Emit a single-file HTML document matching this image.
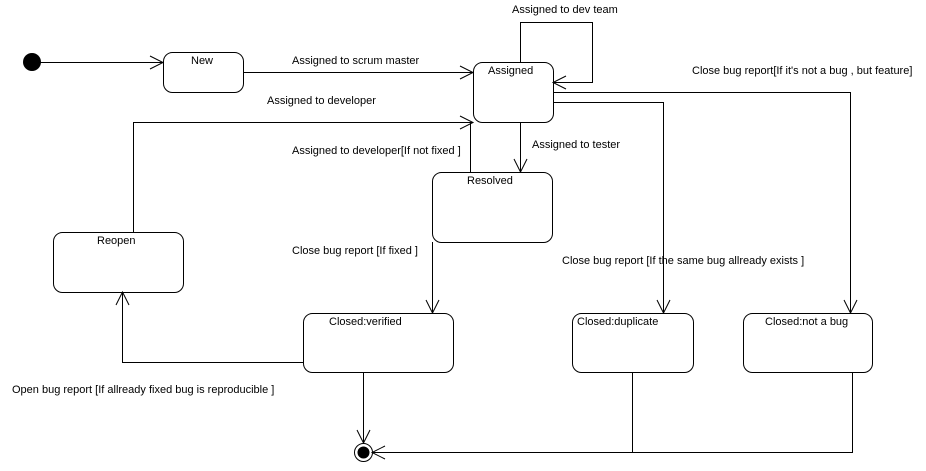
<!DOCTYPE html>
<html><head><style>body{margin:0;background:#fff}svg text{font-family:"Liberation Sans",Arial,sans-serif;font-size:11px;fill:#000}</style></head><body>
<svg width="926" height="466" viewBox="0 0 926 466" xmlns="http://www.w3.org/2000/svg">
<g fill="none" stroke="#000" stroke-width="1">
<rect x="163.5" y="52.5" width="80" height="40" rx="9"/>
<rect x="473.5" y="62.5" width="80" height="60" rx="9"/>
<rect x="432.5" y="172.5" width="120" height="70" rx="9"/>
<rect x="53.5" y="232.5" width="130" height="60" rx="9"/>
<rect x="303.5" y="313.5" width="150" height="59" rx="9"/>
<rect x="572.5" y="313.5" width="121" height="59" rx="9"/>
<rect x="743.5" y="313.5" width="129" height="59" rx="9"/>
<path d="M32 62.5H163M150 56L163 62.5L150 69"/>
<path d="M243 72.5H473M460 66L473 72.5L460 79"/>
<path d="M520.5 62V22.5H592.5V82.5H553M566 76L553 82.5L566 89"/>
<path d="M553 92.5H850.5V313M844 300L850.5 313L857 300"/>
<path d="M553 102.5H663.5V313M657 300L663.5 313L670 300"/>
<path d="M133.5 232V122.5H473M460 116L473 122.5L460 129"/>
<path d="M470.5 172V122"/>
<path d="M520.5 122V172M514 159L520.5 172L527 159"/>
<path d="M432.5 242V313M426 300L432.5 313L439 300"/>
<path d="M303 362.5H122.5V292M116 305L122.5 292L129 305"/>
<path d="M363.5 372V443M357 430L363.5 443L370 430"/>
<path d="M852.5 372V452.5H372M385 446L372 452.5L385 459"/>
<path d="M632.5 372V452"/>
<circle cx="363.5" cy="452.5" r="9"/>
</g>
<circle cx="32" cy="62" r="9" fill="#000"/>
<circle cx="363.5" cy="452.5" r="6" fill="#000"/>
<text x="191" y="64">New</text>
<text x="488" y="74">Assigned</text>
<text x="467" y="184">Resolved</text>
<text x="97" y="244">Reopen</text>
<text x="329" y="325">Closed:verified</text>
<text x="577" y="325">Closed:duplicate</text>
<text x="765" y="325">Closed:not a bug</text>
<text x="512" y="13">Assigned to dev team</text>
<text x="292" y="64">Assigned to scrum master</text>
<text x="267" y="104">Assigned to developer</text>
<text x="292" y="154">Assigned to developer[If not fixed ]</text>
<text x="532" y="148">Assigned to tester</text>
<text x="692" y="74">Close bug report[If it's not a bug , but feature]</text>
<text x="292" y="254">Close bug report [If fixed ]</text>
<text x="562" y="264">Close bug report [If the same bug allready exists ]</text>
<text x="12" y="393">Open bug report [If allready fixed bug is reproducible ]</text>
</svg>
</body></html>
